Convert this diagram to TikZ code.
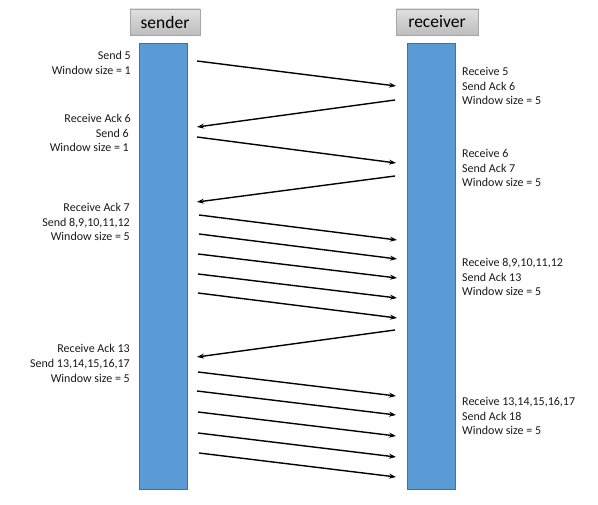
\documentclass[tikz,border=0pt]{standalone}
\usepackage{fontspec}
\setmainfont{Carlito}
\usetikzlibrary{arrows.meta}
\definecolor{barfill}{HTML}{5B9BD5}
\definecolor{barline}{HTML}{41719C}
\definecolor{hdtop}{HTML}{E0E0E0}
\definecolor{hdbot}{HTML}{BDBDBD}
\definecolor{hdline}{HTML}{A6A6A6}
\tikzset{
  header/.style={draw=hdline, line width=0.8pt, top color=hdtop, bottom color=hdbot,
    minimum width=#1, minimum height=26pt, inner sep=0pt, font=\fontsize{17.5}{20}\selectfont},
  lifebar/.style={draw=barline, fill=barfill, line width=0.8pt},
  lbl/.style={inner sep=0pt, font=\fontsize{12}{14}\selectfont, text=black!90, yshift=-1.5pt},
  lleft/.style={lbl, anchor=mid east},
  lright/.style={lbl, anchor=mid west},
  msg/.style={line width=1.4pt, -{Stealth[length=7pt,width=5pt]}}
}
\begin{document}
\begin{tikzpicture}[x=1pt,y=-1pt]
\useasboundingbox (0,0) rectangle (598,505);
% headers
\node[header=70pt] (sender) at (165,22) {sender};
\node[header=82pt] (receiver) at (437,22) {receiver};
% life bars
\path[lifebar] (139,43) rectangle (187,489);
\path[lifebar] (407,43) rectangle (455,489);
% left labels
\node[lleft] (l1a) at (131,56) {Send 5};
\node[lleft] (l1b) at (131,71) {Window size = 1};
\node[lleft] (l2a) at (131,119) {Receive Ack 6};
\node[lleft] (l2b) at (129,134) {Send 6};
\node[lleft] (l2c) at (129,148) {Window size = 1};
\node[lleft] (l3a) at (130,208) {Receive Ack 7};
\node[lleft] (l3b) at (130,223) {Send 8,9,10,11,12};
\node[lleft] (l3c) at (130,237) {Window size = 5};
\node[lleft] (l4a) at (130,349) {Receive Ack 13};
\node[lleft] (l4b) at (130,364) {Send 13,14,15,16,17};
\node[lleft] (l4c) at (130,379) {Window size = 5};
% right labels
\node[lright] (r1a) at (462,72) {Receive 5};
\node[lright] (r1b) at (462,87) {Send Ack 6};
\node[lright] (r1c) at (462,101) {Window size = 5};
\node[lright] (r2a) at (462,154) {Receive 6};
\node[lright] (r2b) at (462,169) {Send Ack 7};
\node[lright] (r2c) at (462,183) {Window size = 5};
\node[lright] (r3a) at (462,263) {Receive 8,9,10,11,12};
\node[lright] (r3b) at (462,278) {Send Ack 13};
\node[lright] (r3c) at (462,292) {Window size = 5};
\node[lright] (r4a) at (462,402) {Receive 13,14,15,16,17};
\node[lright] (r4b) at (462,417) {Send Ack 18};
\node[lright] (r4c) at (462,431) {Window size = 5};
% endpoints
\coordinate (s1) at (197,61);   \coordinate (e1) at (396,86);
\coordinate (a1s) at (395,100); \coordinate (a1e) at (197,127);
\coordinate (s2) at (197,137);  \coordinate (e2) at (396,163);
\coordinate (a2s) at (395,176); \coordinate (a2e) at (197,202);
\coordinate (s3) at (199,215);  \coordinate (e3) at (397,240);
\coordinate (s4) at (199,234);  \coordinate (e4) at (397,259);
\coordinate (s5) at (198,254);  \coordinate (e5) at (397,278);
\coordinate (s6) at (198,274);  \coordinate (e6) at (397,298);
\coordinate (s7) at (198,293);  \coordinate (e7) at (397,318);
\coordinate (a3s) at (395,330); \coordinate (a3e) at (197,357);
\coordinate (s8) at (198,372);  \coordinate (e8) at (396,396);
\coordinate (s9) at (197,391);  \coordinate (e9) at (396,415);
\coordinate (s10) at (198,412); \coordinate (e10) at (396,436);
\coordinate (s11) at (198,433); \coordinate (e11) at (396,457);
\coordinate (s12) at (199,453); \coordinate (e12) at (396,477);
% messages
\draw[msg] (s1) -- (e1);
\draw[msg] (a1s) -- (a1e);
\draw[msg] (s2) -- (e2);
\draw[msg] (a2s) -- (a2e);
\foreach \i in {3,...,7} {\draw[msg] (s\i) -- (e\i);}
\draw[msg] (a3s) -- (a3e);
\foreach \i in {8,...,12} {\draw[msg] (s\i) -- (e\i);}
\end{tikzpicture}
\end{document}
